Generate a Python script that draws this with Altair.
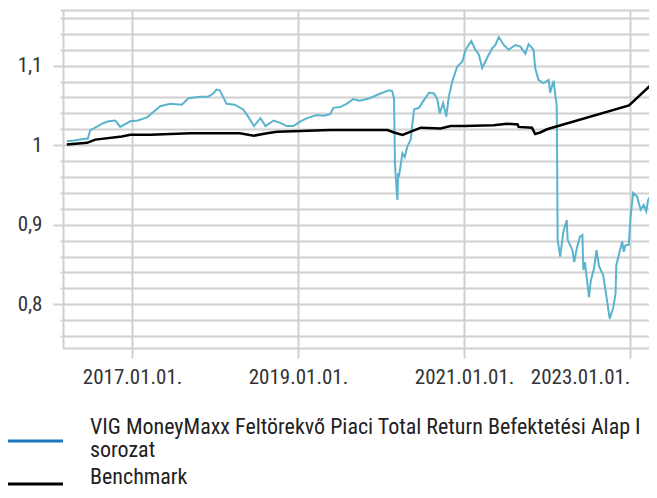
import altair as alt
import pandas as pd

FUND = "VIG MoneyMaxx Feltörekvő Piaci Total Return Befektetési Alap I\nsorozat"
BENCH = "Benchmark"

fund_dates = [
    "2016-03-20", "2016-04-20", "2016-06-08", "2016-06-20", "2016-07-01", "2016-07-23",
    "2016-08-28", "2016-09-20", "2016-10-19", "2016-11-10", "2016-12-24", "2017-01-26",
    "2017-03-08", "2017-04-06", "2017-05-05", "2017-06-18", "2017-08-08", "2017-09-06",
    "2017-10-27", "2017-12-02", "2017-12-24", "2018-01-08", "2018-01-22", "2018-02-21",
    "2018-03-29", "2018-05-05", "2018-05-27", "2018-06-21", "2018-07-20", "2018-08-11",
    "2018-09-16", "2018-10-15", "2018-11-13", "2018-12-12", "2019-01-12", "2019-02-10",
    "2019-03-26", "2019-04-24", "2019-05-23", "2019-06-06", "2019-07-05", "2019-08-03",
    "2019-09-01", "2019-09-30", "2019-11-13", "2019-12-30", "2020-02-06", "2020-02-20",
    "2020-02-28", "2020-03-03", "2020-03-10", "2020-03-14", "2020-03-17", "2020-03-20",
    "2020-04-05", "2020-04-15", "2020-04-26", "2020-05-11", "2020-05-26", "2020-06-17",
    "2020-07-09", "2020-07-31", "2020-08-22", "2020-09-05", "2020-09-16", "2020-10-01",
    "2020-10-15", "2020-10-26", "2020-11-10", "2020-12-02", "2020-12-24", "2021-01-08",
    "2021-02-02", "2021-02-20", "2021-03-07", "2021-03-22", "2021-04-13", "2021-05-05",
    "2021-05-19", "2021-06-03", "2021-06-25", "2021-07-16", "2021-08-15", "2021-09-06",
    "2021-09-28", "2021-10-12", "2021-11-03", "2021-11-10", "2021-11-25", "2021-12-17",
    "2022-01-08", "2022-01-15", "2022-01-30", "2022-02-13", "2022-02-17", "2022-02-28",
    "2022-03-14", "2022-03-29", "2022-04-02", "2022-04-23", "2022-05-01", "2022-05-12",
    "2022-05-26", "2022-06-06", "2022-06-10", "2022-06-17", "2022-07-05", "2022-07-13",
    "2022-07-27", "2022-08-07", "2022-08-18", "2022-09-05", "2022-09-20", "2022-10-04",
    "2022-10-19", "2022-10-30", "2022-11-02", "2022-11-13", "2022-11-28", "2022-12-05",
    "2022-12-12", "2022-12-27", "2023-01-04", "2023-01-15", "2023-02-02", "2023-02-17",
    "2023-03-03", "2023-03-14", "2023-03-22", "2023-04-09", "2023-04-23",
]
fund_values = [
    1.005, 1.006, 1.008, 1.008, 1.019, 1.022,
    1.028, 1.030, 1.031, 1.023, 1.030, 1.031,
    1.035, 1.042, 1.049, 1.052, 1.051, 1.059,
    1.061, 1.061, 1.065, 1.070, 1.069, 1.052,
    1.051, 1.045, 1.036, 1.024, 1.034, 1.024,
    1.031, 1.028, 1.024, 1.024, 1.030, 1.034,
    1.038, 1.037, 1.039, 1.047, 1.048, 1.052,
    1.058, 1.056, 1.059, 1.065, 1.069, 1.068,
    1.058, 0.977, 0.945, 0.931, 0.965, 0.960,
    0.990, 0.985, 0.998, 1.007, 1.045, 1.047,
    1.057, 1.066, 1.065, 1.058, 1.040, 1.053,
    1.036, 1.061, 1.080, 1.099, 1.105, 1.120,
    1.131, 1.120, 1.114, 1.097, 1.110, 1.122,
    1.126, 1.136, 1.126, 1.120, 1.126, 1.124,
    1.115, 1.127, 1.120, 1.097, 1.082, 1.078,
    1.082, 1.066, 1.081, 1.049, 0.881, 0.860,
    0.891, 0.906, 0.881, 0.868, 0.853, 0.870,
    0.885, 0.887, 0.843, 0.853, 0.809, 0.830,
    0.845, 0.868, 0.848, 0.837, 0.809, 0.782,
    0.795, 0.814, 0.849, 0.862, 0.879, 0.866,
    0.874, 0.875, 0.910, 0.940, 0.935, 0.919,
    0.925, 0.917, 0.931, 0.940, 0.954,
]

bench_dates = [
    "2016-03-20", "2016-06-17", "2016-07-23", "2016-11-17", "2016-12-24", "2017-03-24",
    "2017-09-13", "2018-04-20", "2018-06-21", "2018-08-18", "2018-10-01", "2019-01-12",
    "2019-05-23", "2020-01-30", "2020-02-28", "2020-04-05", "2020-06-25", "2020-09-20",
    "2020-11-03", "2021-01-01", "2021-05-12", "2021-07-09", "2021-08-25", "2021-08-29",
    "2021-10-27", "2021-11-10", "2021-12-02", "2022-01-01", "2022-12-28", "2023-04-23",
]
bench_values = [
    1.001, 1.003, 1.007, 1.011, 1.013, 1.013,
    1.015, 1.015, 1.012, 1.015, 1.017, 1.018,
    1.019, 1.019, 1.016, 1.013, 1.022, 1.021,
    1.024, 1.024, 1.025, 1.027, 1.026, 1.023,
    1.022, 1.014, 1.016, 1.020, 1.050, 1.081,
]

series_names = [FUND, BENCH]
line_colors = ["#5ab4ce", "#000000"]
legend_colors = ["#1a75bc", "#000000"]
line_widths = [2, 2.5]

y_grid_values = [round(0.76 + 0.02 * i, 2) for i in range(21)] + [1.17]
x_tick_years = [2017, 2019, 2021, 2023]

df = pd.concat([
    pd.DataFrame({"date": fund_dates, "value": fund_values, "series": FUND}),
    pd.DataFrame({"date": bench_dates, "value": bench_values, "series": BENCH}),
])

FONT = "Liberation Sans Narrow, Roboto Condensed, Roboto, sans-serif"
GRID = "#d0d0d0"
PLOT_W, PLOT_H = 586, 338

x_enc = alt.X(
    "date:T",
    title=None,
    scale=alt.Scale(type="utc",
                    domain=[alt.DateTime(year=2016, month=3, date=3, utc=True),
                            alt.DateTime(year=2023, month=3, date=26, utc=True)]),
    axis=alt.Axis(
        values=[alt.DateTime(year=y, month=1, date=1, utc=True) for y in x_tick_years],
        labelExpr="utcFormat(datum.value, '%Y.%m.%d.')",
        grid=True, gridColor=GRID, gridWidth=2,
        domain=True, domainColor=GRID, domainWidth=2,
        tickColor=GRID, tickWidth=2, tickSize=10,
        labelPadding=8, labelFont=FONT, labelFontSize=21, labelColor="#333333",
        labelBound=False, labelFlush=20,
    ),
)

major_test = "abs(datum.value*10 - round(datum.value*10)) < 0.001"
y_enc = alt.Y(
    "value:Q",
    title=None,
    scale=alt.Scale(domain=[0.745, 1.17], zero=False, nice=False),
    axis=alt.Axis(
        values=y_grid_values,
        labelExpr=f"{major_test} ? replace(toString(round(datum.value*10)/10), '.', ',') : ''",
        grid=True, gridColor=GRID, gridWidth=2,
        domain=True, domainColor=GRID, domainWidth=2,
        tickColor=GRID, tickWidth=2,
        tickSize={"condition": {"test": major_test, "value": 10}, "value": 3},
        labelPadding=11, labelFont=FONT, labelFontSize=21, labelColor="#333333",
        labelOverlap=False,
    ),
)

lines = alt.Chart(df).mark_line(interpolate="linear", clip=True).encode(
    x=x_enc, y=y_enc,
    color=alt.Color("series:N", scale=alt.Scale(domain=series_names, range=line_colors), legend=None),
    strokeWidth=alt.StrokeWidth("series:N", scale=alt.Scale(domain=series_names, range=line_widths), legend=None),
)

# manual legend below the plot (view-relative pixel offsets)
legend_symbol_y = [431, 474]
legend_text_y = [424, 474]
legend_layers = []
for name, col, sy, ty in zip(series_names, legend_colors, legend_symbol_y, legend_text_y):
    one = alt.Chart(pd.DataFrame({"label": [name]}))
    legend_layers.append(
        one.mark_rule(strokeWidth=3, color=col).encode(
            x=alt.value(-55), x2=alt.value(0), y=alt.value(sy))
    )
    legend_layers.append(
        one.mark_text(align="left", baseline="alphabetic", lineBreak="\n", lineHeight=23,
                      font=FONT, fontSize=22, color="#222222").encode(
            x=alt.value(27), y=alt.value(ty), text="label:N")
    )

chart = alt.layer(lines, *legend_layers).properties(
    width=PLOT_W, height=PLOT_H,
    autosize=alt.AutoSizeParams(type="none"),
    padding={"left": 55, "top": 2, "right": 0, "bottom": 142},
).configure_view(stroke=None).configure(background="white")

chart.save("out.html", embed_options={"renderer": "svg", "actions": False})
